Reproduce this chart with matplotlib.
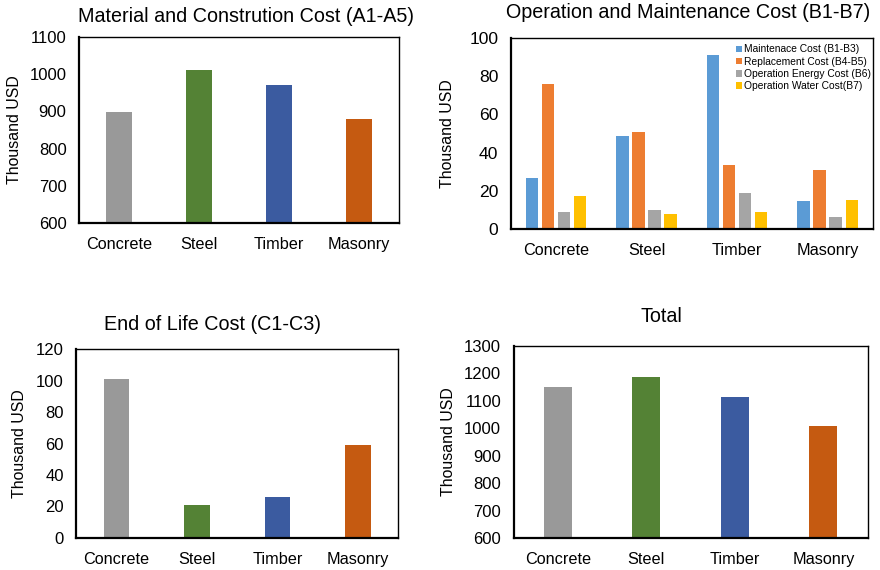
import matplotlib
matplotlib.use("Agg")
import matplotlib.pyplot as plt
import numpy as np

plt.rcParams["font.family"] = ["Liberation Sans", "DejaVu Sans"]

# ---- data (thousand USD) ----
materials = ["Concrete", "Steel", "Timber", "Masonry"]
material_colors = ["#999999", "#548235", "#3b5ba0", "#c55a11"]

construction_cost = [898, 1011, 971, 880]           # A1-A5
end_of_life_cost = [101, 21, 26, 59]                # C1-C3
total_cost = [1150, 1186, 1113, 1008]

maintenance_cost = [26.5, 48.7, 91.4, 14.7]         # B1-B3
replacement_cost = [76.0, 50.6, 33.5, 31.0]         # B4-B5
energy_cost = [8.8, 9.8, 18.7, 6.3]                 # B6
water_cost = [17.2, 7.7, 8.8, 15.1]                 # B7

om_labels = ["Maintenace Cost (B1-B3)", "Replacement Cost (B4-B5)",
             "Operation Energy Cost (B6)", "Operation Water Cost(B7)"]
om_colors = ["#5b9bd5", "#ed7d31", "#a5a5a5", "#ffc000"]

W, H = 880, 570
fig = plt.figure(figsize=(W / 100, H / 100), dpi=100)


def px_axes(left, top, right, bottom):
    return fig.add_axes([left / W, 1 - bottom / H, (right - left) / W, (bottom - top) / H])


def style(ax, ylim, ticks, ytick_size=12.0, label_x=-0.18):
    ax.set_ylim(*ylim)
    ax.set_yticks(ticks)
    ax.set_xlim(-0.5, len(materials) - 0.5)
    ax.set_xticks(np.arange(len(materials)))
    ax.set_xticklabels(materials)
    ax.tick_params(axis="x", length=0, pad=10, labelsize=11.7)
    ax.tick_params(axis="y", length=0, pad=9, labelsize=ytick_size)
    for side in ("top", "right"):
        ax.spines[side].set_linewidth(1.0)
    for side in ("left", "bottom"):
        ax.spines[side].set_linewidth(1.6)
    for sp in ax.spines.values():
        sp.set_color("black")
    ax.set_ylabel("Thousand USD", fontsize=11.4, va="center")
    ax.yaxis.set_label_coords(label_x, 0.5)


x = np.arange(len(materials))

# Material and construction
ax1 = px_axes(79, 37, 399, 223)
ax1.bar(x, construction_cost, width=0.32, color=material_colors)
style(ax1, (600, 1100), np.arange(600, 1101, 100), label_x=-0.2)

# Operation and maintenance
ax2 = px_axes(510.7, 38.3, 873, 228.7)
pitch, bw = 0.177, 0.138
for i, (vals, lab, col) in enumerate(zip(
        [maintenance_cost, replacement_cost, energy_cost, water_cost], om_labels, om_colors)):
    ax2.bar(x + (i - 1.5) * pitch, vals, width=bw, color=col, label=lab)
style(ax2, (0, 100), np.arange(0, 101, 20), ytick_size=12.6, label_x=-0.175)
ax2.legend(loc="upper left", bbox_to_anchor=(0.622, 0.968), frameon=False,
           fontsize=7.4, handlelength=0.6, handleheight=0.6, handletextpad=0.2,
           labelspacing=0.22, borderpad=0, borderaxespad=0)

# End of life
ax3 = px_axes(76.3, 349.3, 398.3, 537.7)
ax3.bar(x, end_of_life_cost, width=0.32, color=material_colors)
style(ax3, (0, 120), np.arange(0, 121, 20), label_x=-0.176)

# Total
ax4 = px_axes(513.7, 345.7, 867.7, 538.3)
ax4.bar(x, total_cost, width=0.316, color=material_colors)
style(ax4, (600, 1300), np.arange(600, 1301, 100), label_x=-0.185)

# panel titles
titles = [("Material and Constrution Cost (A1-A5)", 246, 16),
          ("Operation and Maintenance Cost (B1-B7)", 688, 13),
          ("End of Life Cost (C1-C3)", 212, 324),
          ("Total", 661, 316)]
for text, tx, ty in titles:
    fig.text(tx / W, 1 - ty / H, text, ha="center", va="center", fontsize=14.2)

fig.savefig("out.png", dpi=100)
